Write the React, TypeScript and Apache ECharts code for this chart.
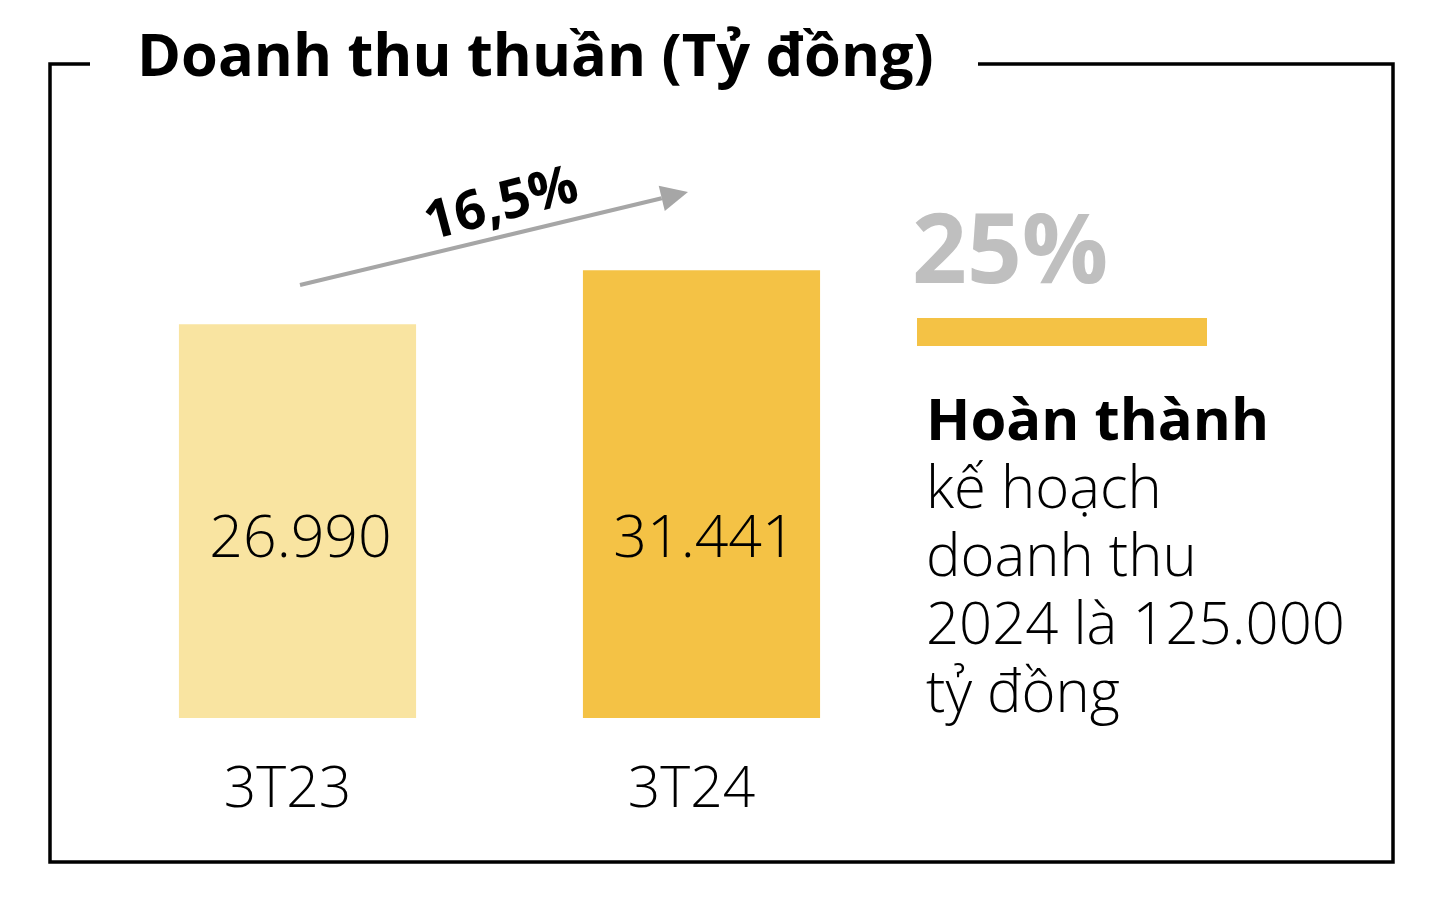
import React, { useEffect, useRef } from 'react';
import * as echarts from 'echarts';

const categories = ['3T23', '3T24'];
const revenue = [26990, 31441];
const barColors = ['#F9E4A1', '#F4C245'];
const growthLabel = '16,5%';
const completionLabel = '25%';
const titleText = 'Doanh thu thuần (Tỷ đồng)';
const noteHead = 'Hoàn thành';
const noteLines = ['kế hoạch', 'doanh thu', '2024 là 125.000', 'tỷ đồng'];
const axisMin = -5500;
const axisMax = 45500;

const BODY_FONT = "'Open Sans', 'Noto Sans', sans-serif";
const TITLE_FONT = "'Open Sans', 'Noto Sans', sans-serif";

function fmt(v: number): string {
  return String(v).replace(/\B(?=(\d{3})+(?!\d))/g, '.');
}

export default function App() {
  const ref = useRef<HTMLDivElement>(null);
  useEffect(() => {
    if (!ref.current) return;
    const chart = echarts.init(ref.current, null, { renderer: 'svg' });

    const tip = [688, 192];
    const start = [300, 285];
    const dx = tip[0] - start[0];
    const dy = tip[1] - start[1];
    const len = Math.sqrt(dx * dx + dy * dy);
    const ux = dx / len, uy = dy / len;
    const nx = -uy, ny = ux;
    const headLen = 27, headHalf = 13;
    const bx = tip[0] - headLen * ux, by = tip[1] - headLen * uy;

    const noteText =
      '{b|' + noteHead + '}\n' + noteLines.map((t) => '{n|' + t + '}').join('\n');

    const option: any = {
      animation: false,
      backgroundColor: '#ffffff',
      grid: { left: 95.5, right: 526.5, top: 100, bottom: 180 },
      xAxis: {
        type: 'category',
        data: categories,
        axisLine: { show: false },
        axisTick: { show: false },
        splitLine: { show: false },
        axisLabel: {
          color: '#000',
          fontSize: 57,
          fontWeight: 300,
          fontFamily: BODY_FONT,
          margin: 38,
          padding: [0, 20, 0, 0],
        },
      },
      yAxis: { type: 'value', min: axisMin, max: axisMax, show: false },
      series: [
        {
          type: 'custom',
          encode: { x: 0, y: 1 },
          data: categories.map((c, i) => [i, revenue[i]]),
          renderItem: (params: any, api: any) => {
            const idx = api.value(0);
            const v = api.value(1);
            const top = api.coord([idx, v]);
            const base = api.coord([idx, axisMin]);
            const w = api.size([1, 0])[0] * 0.587;
            return {
              type: 'group',
              children: [
                {
                  type: 'rect',
                  shape: { x: top[0] - w / 2, y: top[1], width: w, height: base[1] - top[1] },
                  style: { fill: barColors[params.dataIndex] },
                },
                {
                  type: 'text',
                  x: top[0] + 3,
                  y: base[1] - 184,
                  style: {
                    text: fmt(v),
                    fill: '#000',
                    fontSize: 59,
                    fontWeight: 300,
                    fontFamily: BODY_FONT,
                    textAlign: 'center',
                    textVerticalAlign: 'middle',
                  },
                },
              ],
            };
          },
        },
      ],
      graphic: [
        {
          type: 'polyline',
          shape: { points: [[90, 64], [50, 64], [50, 862], [1393, 862], [1393, 64], [978, 64]] },
          style: { stroke: '#000', lineWidth: 3.5, fill: 'none' },
        },
        {
          type: 'text',
          x: 137,
          y: 52,
          style: {
            text: titleText,
            fill: '#000',
            fontSize: 59.5,
            fontWeight: 'bold',
            fontFamily: TITLE_FONT,
            textVerticalAlign: 'middle',
          },
        },
        {
          type: 'line',
          shape: { x1: start[0], y1: start[1], x2: bx, y2: by },
          style: { stroke: '#A6A6A6', lineWidth: 4 },
        },
        {
          type: 'polygon',
          shape: {
            points: [tip, [bx + headHalf * nx, by + headHalf * ny], [bx - headHalf * nx, by - headHalf * ny]],
          },
          style: { fill: '#A6A6A6' },
        },
        {
          type: 'text',
          x: 500,
          y: 200,
          rotation: 0.26,
          style: {
            text: growthLabel,
            fill: '#000',
            fontSize: 54,
            fontWeight: 'bold',
            fontFamily: BODY_FONT,
            textAlign: 'center',
            textVerticalAlign: 'middle',
          },
        },
        {
          type: 'text',
          x: 912,
          y: 245,
          style: {
            text: completionLabel,
            fill: '#BFBFBF',
            fontSize: 96,
            fontWeight: 'bold',
            fontFamily: BODY_FONT,
            textVerticalAlign: 'middle',
          },
        },
        {
          type: 'rect',
          shape: { x: 917, y: 318, width: 290, height: 28 },
          style: { fill: '#F4C245' },
        },
        {
          type: 'text',
          x: 926,
          y: 383,
          style: {
            text: noteText,
            fill: '#000',
            fontFamily: BODY_FONT,
            rich: {
              b: { fontSize: 58, fontWeight: 'bold', lineHeight: 68, fontFamily: BODY_FONT, fill: '#000' },
              n: { fontSize: 58, fontWeight: 300, lineHeight: 68, fontFamily: BODY_FONT, fill: '#000' },
            },
          },
        },
      ],
    };
    chart.setOption(option);
    return () => chart.dispose();
  }, []);
  return (
    <div
      ref={ref}
      style={{ position: 'fixed', left: 0, top: 0, width: 1430, height: 898, background: '#fff' }}
    />
  );
}
